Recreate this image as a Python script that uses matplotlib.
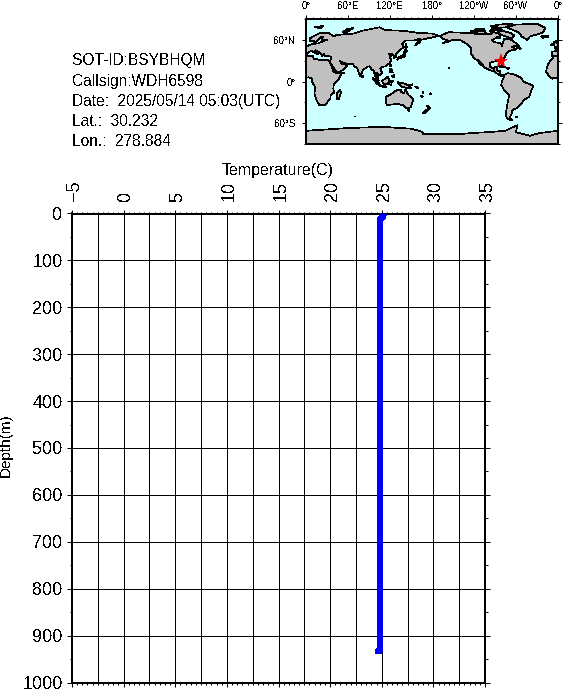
import numpy as np
import matplotlib
matplotlib.use('Agg')
import matplotlib.pyplot as plt
from matplotlib.ticker import MultipleLocator, FixedLocator
from matplotlib.transforms import ScaledTranslation

plt.rcParams['font.family'] = ['Liberation Sans', 'DejaVu Sans']
plt.rcParams['text.antialiased'] = False

# profile
temperature = [25.15, 25.1, 24.82, 24.82, 24.82, 24.82, 24.82, 24.82, 24.82, 24.82, 24.82, 24.68, 24.68]
depth = [2, 8, 12, 50, 150, 300, 450, 600, 750, 900, 931, 932, 939]

info_lines = ['SOT-ID:BSYBHQM', 'Callsign:WDH6598', 'Date:  2025/05/14 05:03(UTC)',
              'Lat.:  30.232', 'Lon.:  278.884']
station_lon = 278.884
station_lat = 30.232

# coastlines, rough, lon/lat degrees
africa = [(-6,36),(10,37),(11,33),(20,31),(32,31),(34,28),(37,21),(39,15),(43,12),(51,12),(47,4),(40,-3),
          (39,-10),(40,-16),(35,-20),(35,-24),(32,-28),(27,-34),(19,-34),(15,-27),(12,-17),(13,-8),(9,-1),
          (9,4),(4,6),(-4,5),(-8,4),(-13,8),(-17,14),(-16,20),(-13,27),(-9,32)]
eurasia = [(-9,37),(-5,36),(0,38),(3,42),(8,44),(12,42),(16,39),(18,40),(13,45),(19,42),(23,37),(26,40),
           (27,37),(36,36),(35,31),(34,28),(38,22),(43,14),(45,13),(52,16),(59,22),(56,26),(51,25),(48,30),
           (51,28),(57,26),(62,25),(67,25),(70,21),(73,20),(77,8),(80,13),(81,16),(87,21),(91,22),(94,17),
           (97,16),(98,10),(101,3),(104,1),(103,6),(100,13),(105,9),(109,12),(106,19),(109,21),(114,22),
           (120,27),(122,31),(119,35),(122,37),(118,39),(122,40),(125,38),(126,34),(129,36),(128,39),
           (132,43),(140,50),(137,54),(142,59),(155,59),(163,62),(156,52),(162,56),(164,60),(178,63),
           (190,66),(180,69),(160,70),(140,73),(113,74),(105,78),(80,73),(68,69),(55,68),(44,67),(40,65),
           (32,70),(20,70),(5,62),(6,58),(11,59),(12,55),(18,60),(22,65),(25,65),(22,60),(30,60),(22,57),
           (18,55),(9,54),(4,52),(-1,49),(-4,48),(-1,44),(-9,43)]
north_america = [(-168,66),(-156,71),(-130,70),(-110,68),(-95,68),(-94,72),(-85,69),(-82,66),(-94,60),(-92,57),
                 (-82,55),(-80,51),(-79,55),(-77,62),(-70,61),(-65,59),(-56,52),(-66,50),(-60,46),(-70,44),
                 (-74,40),(-76,35),(-81,31),(-80,25),(-82,28),(-84,30),(-90,29),(-97,27),(-97,21),(-91,18),
                 (-90,21),(-87,21),(-88,16),(-83,15),(-83,10),(-78,9),(-80,7),(-85,10),(-92,15),(-97,16),
                 (-105,20),(-110,27),(-114,31),(-110,23),(-115,30),(-120,34),(-124,40),(-124,48),(-130,54),
                 (-140,60),(-150,60),(-158,57),(-165,55),(-158,59),(-165,62)]
south_america = [(-78,9),(-72,12),(-62,10),(-52,5),(-50,0),(-35,-6),(-39,-15),(-41,-22),(-48,-26),(-54,-34),
                 (-58,-38),(-65,-41),(-66,-46),(-69,-52),(-66,-55),(-72,-54),(-75,-48),(-73,-37),(-70,-20),
                 (-76,-14),(-81,-5),(-80,1),(-77,7)]
australia = [(114,-22),(122,-18),(130,-12),(136,-12),(136,-15),(140,-17),(142,-11),(146,-19),(153,-26),
             (150,-37),(144,-39),(138,-34),(131,-32),(124,-33),(115,-34)]
greenland = [(-73,78),(-60,82),(-30,83),(-18,77),(-22,70),(-40,65),(-44,60),(-52,65),(-55,70)]
# east longitudes, runs past both map edges so no seam shows
antarctica = [(-20,-70),(0,-71),(30,-69),(60,-67),(90,-66),(120,-66),(150,-68),(165,-72),(168,-76),(215,-76),
              (240,-74),(260,-73),(285,-71),(295,-66),(302,-63),(300,-73),(320,-78),(335,-74),(360,-71),
              (380,-69),(380,-95),(-20,-95)]
madagascar = [(49,-12),(50,-16),(47,-25),(44,-25),(44,-17)]
great_britain = [(-5,50),(1,51),(-2,56),(-3,58),(-6,57)]
ireland = [(-10,52),(-6,52),(-6,55),(-9,54)]
iceland = [(-24,65),(-15,66),(-14,64),(-22,63)]
svalbard = [(12,78),(25,80),(22,77)]
novaya_zemlya = [(52,71),(58,71),(68,77),(58,75)]
japan = [(130,31),(132,34),(136,34),(141,36),(142,41),(145,44),(141,45),(139,38),(132,35)]
sakhalin = [(142,46),(144,50),(143,54),(142,52)]
sumatra = [(95,5),(104,-2),(106,-6),(101,-3)]
java = [(106,-6),(114,-7),(114,-8),(106,-7)]
borneo = [(109,1),(117,7),(119,1),(116,-4),(110,-3)]
sulawesi = [(120,1),(125,1),(122,-1),(122,-5),(119,-4)]
new_guinea = [(131,-1),(141,-3),(147,-6),(150,-10),(143,-9),(138,-8),(133,-4)]
luzon = [(120,18),(122,18),(124,13),(120,14)]
mindanao = [(122,8),(126,9),(126,6),(123,7)]
new_zealand_n = [(173,-35),(178,-38),(175,-41),(174,-39)]
new_zealand_s = [(172,-41),(174,-42),(170,-46),(167,-46)]
cuba = [(-85,22),(-80,23),(-74,20),(-78,20)]
hispaniola = [(-74,20),(-69,19),(-72,18)]
sri_lanka = [(80,9),(82,7),(80,6)]
taiwan = [(121,25),(121,22),(120,23)]
baffin = [(-80,73),(-68,70),(-62,66),(-66,62),(-75,65),(-88,70)]
victoria = [(-118,72),(-105,73),(-102,69),(-115,69)]
ellesmere = [(-90,77),(-85,82),(-65,83),(-75,78)]
banks = [(-125,72),(-118,74),(-116,72),(-122,71)]
devon = [(-96,75),(-82,76),(-80,74),(-92,74)]
melville = [(-117,76),(-106,76),(-108,74),(-116,75)]
axel_heiberg = [(-96,80),(-88,81),(-88,78),(-94,78)]
somerset = [(-96,74),(-90,74),(-92,71),(-97,72)]
southampton = [(-87,65),(-82,64),(-84,62),(-87,63)]
newfoundland = [(-59,48),(-56,51),(-53,47)]
tasmania = [(145,-41),(148,-41),(147,-43)]
new_britain = [(148,-5),(152,-4),(150,-6)]
solomons = [(156,-7),(161,-9),(160,-10)]
vanuatu = [(167,-15),(168,-16),(167,-17)]
new_caledonia = [(164,-20),(167,-22),(165,-22)]
fiji = [(177,-17),(179,-18),(178,-19)]
hawaii = [(-156,20),(-155,19),(-156,19)]
falklands = [(-61,-51),(-58,-51),(-59,-52)]
tierra = [(-69,-53),(-65,-55),(-69,-55)]
kerguelen = [(69,-49),(70,-49),(70,-50)]
socotra = [(53,13),(54,12),(53,12)]
land = [africa, eurasia, north_america, south_america, australia, greenland, madagascar,
        great_britain, ireland, iceland, svalbard, novaya_zemlya, japan, sakhalin, sumatra, java, borneo,
        sulawesi, new_guinea, luzon, mindanao, new_zealand_n, new_zealand_s, cuba, hispaniola, sri_lanka,
        taiwan, baffin, victoria, ellesmere, banks, devon, melville, axel_heiberg, somerset, southampton,
        newfoundland, tasmania, new_britain, solomons, vanuatu, new_caledonia, fiji, hawaii, falklands,
        tierra, kerguelen, socotra]

W, H = 564, 690
fig = plt.figure(figsize=(W / 100, H / 100), dpi=100)


def box(left, top, right, bottom):
    return [left / W, 1 - bottom / H, (right - left) / W, (bottom - top) / H]


# main panel
ax = fig.add_axes(box(72, 213.5, 485, 682.5))
ax.set_xlim(-5, 35)
ax.set_ylim(1000, 0)
ax.xaxis.set_major_locator(MultipleLocator(5))
ax.xaxis.set_minor_locator(MultipleLocator(0.5))
ax.yaxis.set_major_locator(MultipleLocator(100))
ax.yaxis.set_minor_locator(MultipleLocator(50))
for v in np.arange(-2.5, 35, 2.5):
    ax.axvline(v, color='k', lw=0.72, antialiased=False, zorder=1)
for v in range(100, 1000, 100):
    ax.axhline(v, color='k', lw=0.72, antialiased=False, zorder=1)
ax.tick_params(axis='x', which='major', top=True, bottom=True, labeltop=True, labelbottom=False,
               length=3.2, width=0.72, labelsize=13, labelrotation=90, pad=6)
ax.tick_params(axis='x', which='minor', top=True, bottom=True, length=1.6, width=0.72)
ax.tick_params(axis='y', which='major', left=True, right=True, length=3.8, width=0.72, labelsize=13, pad=3)
ax.tick_params(axis='y', which='minor', left=True, right=True, length=1.8, width=0.72)
# rotated labels sit a little right of their ticks
shift = ScaledTranslation(2.5 / 100, 0, fig.dpi_scale_trans)
for lab in ax.get_xticklabels():
    lab.set_transform(lab.get_transform() + shift)
for lab in ax.get_yticklabels():
    lab.set_verticalalignment('center_baseline')
for s in ax.spines.values():
    s.set_linewidth(1.44)
    s.set_antialiased(False)
ax.plot(temperature, depth, color='#0000ff', lw=4, solid_capstyle='butt', antialiased=False, zorder=3)
fig.text(278 / W, 1 - 170 / H, 'Temperature(C)', ha='center', va='center', fontsize=11.5)
fig.text(6 / W, 1 - 445 / H, 'Depth(m)', ha='center', va='center', rotation=90, fontsize=11)

# station text
for i, line in enumerate(info_lines):
    fig.text(72 / W, 1 - (61 + i * 20.2) / H, line, ha='left', va='center', fontsize=11.2)

# map
mp = fig.add_axes(box(306, 19, 558, 144), facecolor='#ccffff')
for poly in land:
    lon, lat = zip(*poly)
    for off in (-360, 0, 360):
        mp.fill(np.array(lon) + off, lat, facecolor='#c0c0c0', edgecolor='k', lw=0.5, antialiased=False)
lon, lat = zip(*antarctica)
mp.fill(lon, lat, facecolor='#c0c0c0', edgecolor='k', lw=0.5, antialiased=False)
mp.set_xlim(0, 360)
mp.set_ylim(-90, 90)
mp.plot(station_lon, station_lat, marker='*', color='#ff0000', ms=11, mew=0, zorder=5)
mp.xaxis.set_major_locator(FixedLocator(range(0, 361, 60)))
mp.xaxis.set_minor_locator(MultipleLocator(10))
mp.yaxis.set_major_locator(FixedLocator([-60, 0, 60]))
mp.yaxis.set_minor_locator(MultipleLocator(30))
mp.set_xticklabels(['0°', '60°E', '120°E', '180°', '120°W', '60°W', '0°'])
mp.set_yticklabels(['60°S', '0°', '60°N'])
mp.tick_params(axis='x', which='major', top=True, bottom=False, labeltop=True, labelbottom=False,
               length=3, width=0.72, labelsize=7, pad=2.5)
mp.tick_params(axis='x', which='minor', top=True, bottom=False, length=1.5, width=0.72)
mp.tick_params(axis='y', which='major', left=True, right=True, length=3, width=0.72, labelsize=7, pad=4.5)
mp.tick_params(axis='y', which='minor', left=True, right=True, length=1.5, width=0.72)
for s in mp.spines.values():
    s.set_linewidth(1.44)
    s.set_antialiased(False)

fig.savefig('out.png', dpi=100)
